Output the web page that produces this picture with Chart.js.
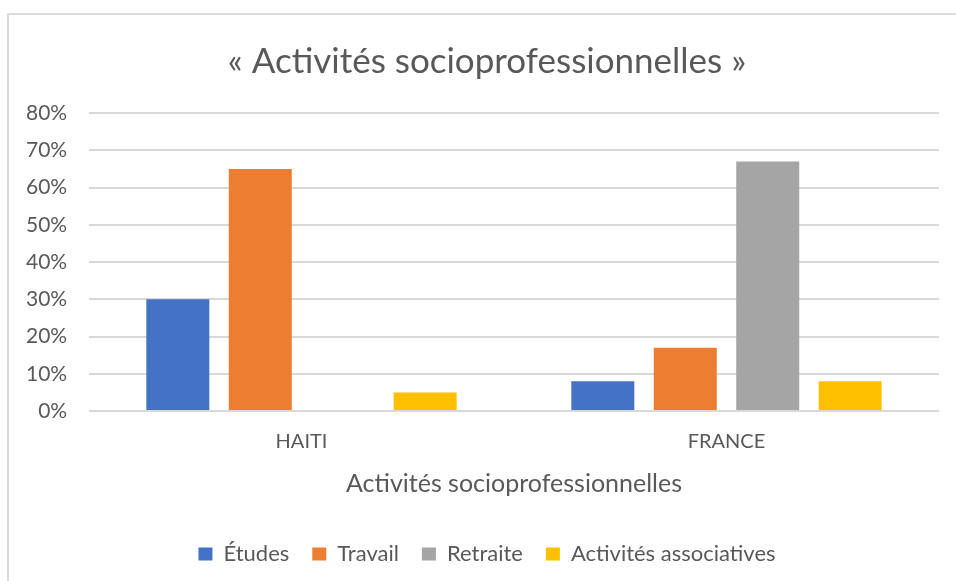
<!DOCTYPE html>
<html>
<head>
<meta charset="utf-8">
<script src="https://cdn.jsdelivr.net/npm/chart.js@4"></script>
<style>
	html, body { margin: 0; padding: 0; background: #fff; }
	#wrap { position: relative; width: 956px; height: 581px; overflow: hidden; }
	#frame { position: absolute; left: 7px; top: 13px; width: 1000px; height: 700px; border: 2px solid #dcdcdc; }
	canvas { position: absolute; left: 0; top: 0; }
</style>
</head>
<body>
<div id="wrap">
	<div id="frame"></div>
	<canvas id="myChart" width="956" height="581"></canvas>
</div>
<script>
// Data (percent)
const categories = ["HAITI", "FRANCE"];
const seriesNames = ["Études", "Travail", "Retraite", "Activités associatives"];
const etudes = [30, 8];
const travail = [65, 17];
const retraite = [0, 67];
const associatives = [5, 8];
const yTicks = [0, 10, 20, 30, 40, 50, 60, 70, 80];

const colors = ["#4472C4", "#ED7D31", "#A5A5A5", "#FFC000"];
const textColor = "#595959";
const fontFamily = "Lato, 'Open Sans', sans-serif";

const values = [etudes, travail, retraite, associatives];

const ctx = document.getElementById("myChart");
Chart.defaults.font.family = fontFamily;
Chart.defaults.color = textColor;

new Chart(ctx, {
	type: "bar",
	data: {
		labels: categories,
		datasets: seriesNames.map((name, i) => ({
			label: name,
			data: values[i],
			backgroundColor: colors[i],
			borderWidth: 0,
			categoryPercentage: 0.776,
			barPercentage: 0.764,
		})),
	},
	options: {
		responsive: false,
		animation: false,
		devicePixelRatio: 1,
		layout: { padding: { left: 35, right: 17, top: 41, bottom: 6 } },
		plugins: {
			title: {
				display: true,
				text: "« Activités socioprofessionnelles »",
				font: { size: 35, weight: "normal" },
				color: textColor,
				padding: { top: 0, bottom: 30 },
			},
			legend: {
				position: "bottom",
				labels: {
					boxWidth: 14,
					boxHeight: 13,
					padding: 23,
					font: { size: 22 },
					color: textColor,
				},
			},
			tooltip: { enabled: false },
		},
		scales: {
			x: {
				grid: { display: false },
				border: { display: false },
				ticks: { font: { size: 20 }, color: textColor, padding: 11 },
				title: {
					display: true,
					text: "Activités socioprofessionnelles",
					font: { size: 25 },
					color: textColor,
					padding: { top: 4, bottom: 21 },
				},
			},
			y: {
				min: 0,
				max: 80,
				afterBuildTicks: (axis) => {
					axis.ticks = yTicks.map((v) => ({ value: v }));
				},
				// narrow axis box, labels are pushed out to the left of it (not clipped when mirrored)
				afterFit: (axis) => {
					axis.width = 54;
				},
				grid: { color: "#d9d9d9", lineWidth: 2, drawTicks: false },
				border: { display: false },
				ticks: {
					font: { size: 21 },
					color: textColor,
					mirror: true,
					crossAlign: "far",
					padding: -63,
					callback: (v) => v + "%",
				},
			},
		},
	},
});
</script>
</body>
</html>
